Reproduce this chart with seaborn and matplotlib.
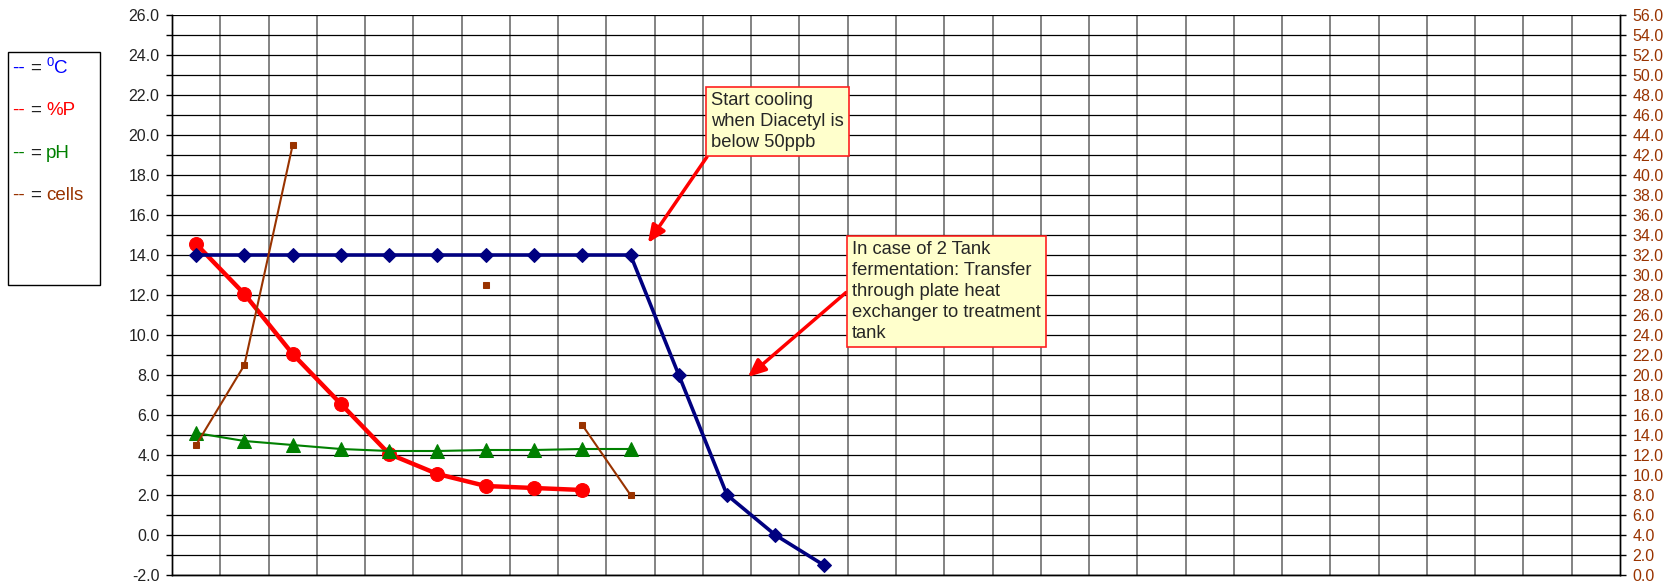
"""Fermentation / cooling profile chart (temp, %P, pH, cells) per day slot."""
import matplotlib
matplotlib.use("Agg")
import matplotlib.pyplot as plt
from matplotlib.patches import Rectangle
from matplotlib.ticker import FormatStrFormatter, MultipleLocator
import numpy as np
import pandas as pd
import seaborn as sns

# --- data --------------------------------------------------------------------
n_slots = 30
temp_c = [14.0, 14.0, 14.0, 14.0, 14.0, 14.0, 14.0, 14.0, 14.0, 14.0, 8.0, 2.0, 0.0, -1.5]
pct_p = [14.55, 12.05, 9.05, 6.55, 4.05, 3.05, 2.45, 2.35, 2.25]
ph = [5.1, 4.7, 4.5, 4.3, 4.2, 4.2, 4.25, 4.25, 4.3, 4.3]
cells = [13.0, 21.0, 43.0, np.nan, np.nan, np.nan, 29.0, np.nan, 15.0, 8.0]

legend_items = [("$^0$C", "#0000FF"), ("%P", "#FF0000"), ("pH", "#008000"), ("cells", "#993300")]
note_cooling = "Start cooling\nwhen Diacetyl is\nbelow 50ppb"
note_transfer = "In case of 2 Tank\nfermentation: Transfer\nthrough plate heat\nexchanger to treatment\ntank"

NAVY, RED, GREEN, BROWN = "#000080", "#FF0000", "#008000", "#993300"

sns.set_style("white")
plt.rcParams["font.family"] = ["Liberation Sans", "DejaVu Sans"]
plt.rcParams["mathtext.fontset"] = "custom"
plt.rcParams["mathtext.rm"] = "Liberation Sans"
plt.rcParams["mathtext.default"] = "regular"

df_t = pd.DataFrame({"slot": range(len(temp_c)), "val": temp_c})
df_p = pd.DataFrame({"slot": range(len(pct_p)), "val": pct_p})
df_ph = pd.DataFrame({"slot": range(len(ph)), "val": ph})
df_c = pd.DataFrame({"slot": range(len(cells)), "val": cells})
df_c["seg"] = df_c["val"].isna().cumsum()
df_c = df_c.dropna()

fig = plt.figure(figsize=(16.68, 5.82), dpi=100)
ax = fig.add_axes([172 / 1668, 7 / 582, 1448 / 1668, 560 / 582])
ax2 = ax.twinx()

sns.lineplot(data=df_t, x="slot", y="val", ax=ax, color=NAVY, lw=2.6,
             marker="D", markersize=7.5, markeredgecolor=NAVY, zorder=4)
sns.lineplot(data=df_p, x="slot", y="val", ax=ax, color=RED, lw=3.2,
             marker="o", markersize=10, markeredgecolor=RED, zorder=3)
sns.lineplot(data=df_ph, x="slot", y="val", ax=ax, color=GREEN, lw=1.5,
             marker="^", markersize=10, markeredgecolor=GREEN, zorder=3)
sns.lineplot(data=df_c, x="slot", y="val", units="seg", estimator=None, ax=ax2,
             color=BROWN, lw=1.5, marker="s", markersize=5, markeredgecolor=BROWN)

# left axis
ax.set_xlim(-0.5, n_slots - 0.5)
ax.set_ylim(-2, 26)
ax.yaxis.set_major_locator(MultipleLocator(2))
ax.yaxis.set_minor_locator(MultipleLocator(1))
ax.yaxis.set_major_formatter(FormatStrFormatter("%.1f"))
ax.tick_params(axis="y", which="both", direction="out", length=4, width=1,
               color="black", labelsize=11.5, labelcolor="#222222", pad=5, left=True)
ax.set_xticks(np.arange(0.5, n_slots - 1, 1))
ax.tick_params(axis="x", length=0, labelbottom=False)
ax.grid(True, axis="y", which="both", color="black", lw=0.9)
ax.grid(True, axis="x", color="#7a7a7a", lw=1.3)
ax.set_axisbelow(True)
ax.set_xlabel("")
ax.set_ylabel("")

# right axis
ax2.set_ylim(0, 56)
ax2.yaxis.set_major_locator(MultipleLocator(2))
ax2.yaxis.set_major_formatter(FormatStrFormatter("%.1f"))
ax2.tick_params(axis="y", direction="out", length=4, width=1, color="black",
                labelsize=11.5, labelcolor=BROWN, pad=5, right=True)
ax2.grid(False)
ax2.set_ylabel("")

for a in (ax, ax2):
    for s in a.spines.values():
        s.set_color("black")
        s.set_linewidth(1.0)
    a.spines["top"].set_visible(False)

# annotations
box = dict(boxstyle="square,pad=0.3", fc="#FFFFCC", ec="#FF2020", lw=1.2)
ax2.annotate(note_cooling, xy=(9.36, 14.6), xycoords=ax.transData,
             xytext=(10.67, 22.15), textcoords=ax.transData, ha="left", va="top",
             fontsize=13.2, linespacing=1.3, bbox=box,
             arrowprops=dict(arrowstyle="-|>,head_length=0.8,head_width=0.35", color=RED,
                             lw=2.5, shrinkA=0, shrinkB=0, relpos=(0, 0)))
ax2.annotate(note_transfer, xy=(11.43, 7.9), xycoords=ax.transData,
             xytext=(13.59, 14.7), textcoords=ax.transData, ha="left", va="top",
             fontsize=13.2, linespacing=1.3, bbox=box,
             arrowprops=dict(arrowstyle="-|>,head_length=0.8,head_width=0.35", color=RED,
                             lw=2.5, shrinkA=0, shrinkB=0, relpos=(0, 0.54)))

# hand-made legend box
fig.patches.append(Rectangle((8 / 1668, (582 - 285) / 582), 92 / 1668, 233 / 582,
                             transform=fig.transFigure, fill=False, ec="black", lw=1.0))
for i, (label, col) in enumerate(legend_items):
    y = 1 - (68 + i * 42.5) / 582
    fig.text(12 / 1668, y, "--", color=col, fontsize=13.5, va="center")
    fig.text(30 / 1668, y, "=", color="#222222", fontsize=13.5, va="center")
    fig.text(46 / 1668, y, label, color=col, fontsize=13.5, va="center")

fig.savefig("out.png", dpi=100)
